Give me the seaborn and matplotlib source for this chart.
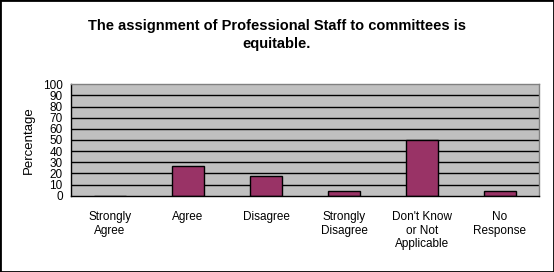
import matplotlib
matplotlib.use("Agg")
import matplotlib.pyplot as plt
import seaborn as sns
import pandas as pd
from matplotlib.patches import Rectangle

categories = ["Strongly\nAgree", "Agree", "Disagree", "Strongly\nDisagree",
              "Don't Know\nor Not\nApplicable", "No\nResponse"]
values = [0, 26.4, 17.4, 3.9, 49.8, 3.9]
yticks = list(range(0, 101, 10))

sns.set_theme(style="white")
plt.rcParams['font.family'] = ['Liberation Sans', 'DejaVu Sans']
plt.rcParams['text.color'] = 'black'
plt.rcParams['axes.labelcolor'] = 'black'
plt.rcParams['xtick.color'] = 'black'
plt.rcParams['ytick.color'] = 'black'

fig = plt.figure(figsize=(5.54, 2.72), dpi=100)
ax = fig.add_axes([71/554, 1-195.7/272, 468/554, 111.4/272])

df = pd.DataFrame({"cat": categories, "val": values})
sns.barplot(data=df, x="cat", y="val", ax=ax, color="#993366", saturation=1,
            width=0.4, edgecolor="black", linewidth=1)

ax.set_facecolor("#C0C0C0")
ax.set_ylim(0, 100)
ax.set_xlim(-0.5, 5.5)
ax.set_yticks(yticks)
ax.set_yticklabels([str(t) for t in yticks], fontsize=8.5)
for t in yticks[1:-1]:
    ax.axhline(t, color="black", lw=1, zorder=0.5)
ax.set_axisbelow(True)

ax.set_xticks([i - 0.5 for i in range(7)], minor=False)
ax.set_xticklabels([])
ax.set_xticks(range(6), minor=True)
ax.set_xticklabels(categories, minor=True, fontsize=8.5, linespacing=1.18)
ax.tick_params(axis="x", which="minor", length=0, pad=11)
ax.tick_params(axis="x", which="major", length=4, width=1, color="black", direction="out")
ax.tick_params(axis="y", length=4, width=1, color="black", direction="out", pad=2, labelsize=8.5)
for lbl in ax.get_xticklabels(minor=True):
    lbl.set_verticalalignment("top")

ax.set_xlabel("")
ax.set_ylabel("Percentage", fontsize=9.5, labelpad=6)

for s in ["top", "right"]:
    ax.spines[s].set_color("#808080")
    ax.spines[s].set_linewidth(1)
for s in ["left", "bottom"]:
    ax.spines[s].set_color("black")
    ax.spines[s].set_linewidth(1)
for s in ax.spines.values():
    s.set_visible(True)

fig.text(0.5, 1-26/272, "The assignment of Professional Staff to committees is",
         ha="center", va="center", fontsize=10.5, fontweight="bold")
fig.text(0.5, 1-44/272, "equitable.", ha="center", va="center",
         fontsize=10.5, fontweight="bold")

fig.patches.append(Rectangle((0, 0), 1, 1, transform=fig.transFigure,
                             fill=False, edgecolor="black", lw=2))

fig.savefig("out.png", dpi=100)
